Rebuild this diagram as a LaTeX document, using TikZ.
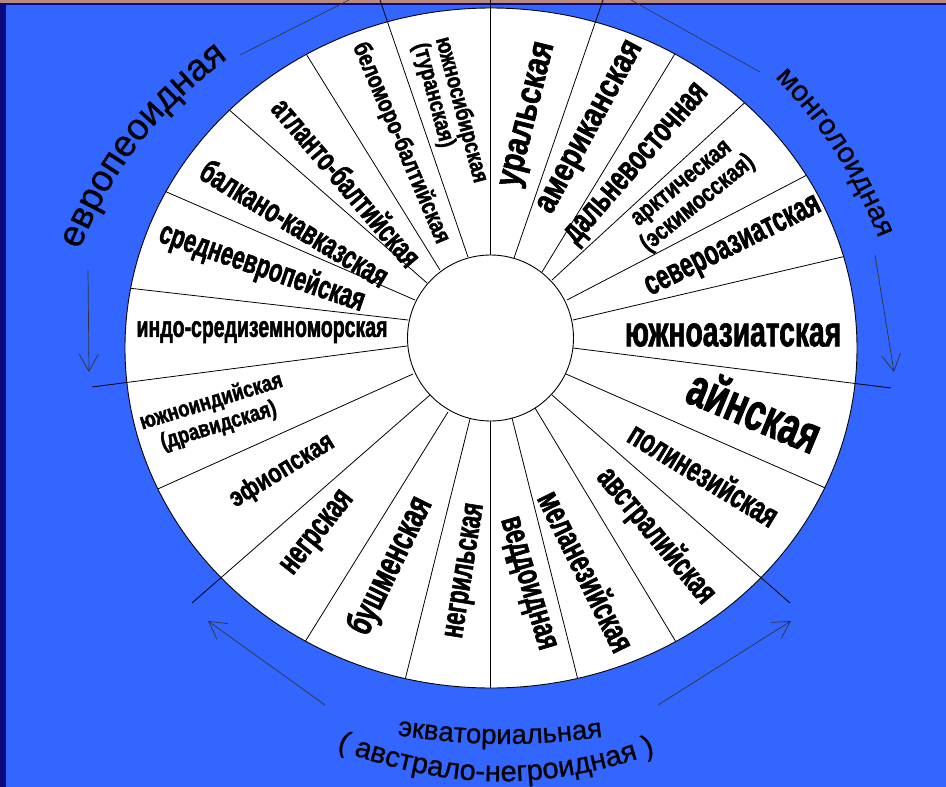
\documentclass[tikz,border=0pt]{standalone}
\usepackage{fontspec}
\setmainfont{Liberation Sans}
\newfontfamily\raceA{Liberation Sans}[FakeStretch=0.66, FakeBold=1.6]
\newfontfamily\raceB{Liberation Sans}[FakeStretch=0.80, FakeBold=1.6]
\newfontfamily\groupfont{Liberation Sans}[FakeBold=0.8]
\usetikzlibrary{arrows.meta,calc,decorations.text}
\definecolor{bgblue}{HTML}{3366FF}
\definecolor{navy}{HTML}{0A0A80}
\definecolor{topband}{HTML}{B88A80}
\newcommand\rA[2]{\raceA\bfseries\fontsize{#1}{#2}\selectfont}
\newcommand\rB[2]{\raceB\bfseries\fontsize{#1}{#2}\selectfont}
\newcommand\gA[1]{\groupfont\fontsize{#1}{#1}\selectfont}
\tikzset{
  race/.style={inner sep=0pt, text=black},
  spoke/.style={line width=0.8pt, draw=black},
  rim/.style={line width=0.9pt, draw=black, fill=white},
  thinline/.style={line width=0.6pt, draw=black!80},
  arr/.style={-{Straight Barb[length=17pt,width=19pt]}, line width=0.7pt, draw=black!80},
  grp/.style={decorate, decoration={text along path, text align=center}},
}
\begin{document}
\begin{tikzpicture}[x=1pt,y=1pt]
  \useasboundingbox (0,0) rectangle (946,-787);
  \fill[bgblue] (0,0) rectangle (946,-787);
  \fill[navy] (0,0) rectangle (6,-787);
  \fill[topband] (0,0) rectangle (946,-3);
  \fill[navy] (0,-2.5) rectangle (946,-5);

  % wheel
  \draw[rim] (491,-348) ellipse [x radius=366, y radius=340];
  \begin{scope}
    \clip (491,-348) ellipse [x radius=366, y radius=340];
    \foreach \ix/\iy/\ox/\oy in {440/270/308/57, 427/283/227/108, 415/300/162/190, 408/320/128/288,
        413/374/160/488, 448/412/308/637, 470/419/408/668, 490/421/490/688,
        512/418/575/668, 535/408/673/637, 566/374/823/487, 573/320/842/257,
        567/300/807/175, 552/280/740/107, 542/272/673/57}
      \draw[spoke] (\ix,-\iy) -- ($(\ix,-\iy)!1.08!(\ox,-\oy)$);
  \end{scope}
  % group borders
  \foreach \ix/\iy/\ox/\oy in {468/257/380/0, 407/346/92/387, 430/395/192/603,
      552/395/790/603, 573/348/891/388, 514/258/603/0, 490/255/490/0}
    \draw[spoke] (\ix,-\iy) -- (\ox,-\oy);
  \draw[rim] (490.5,-338) circle [radius=83];

  % left half
  \node[race, font=\rB{23.5}{23}, align=left, rotate=-75] (yuzhsib) at (450,-113) {южносибирская\\(туранская)};
  \node[race, font=\rB{24.5}{24}, rotate=-67] (belomor) at (401,-143) {беломоро-балтийская};
  \node[race, font=\rA{32}{32}, rotate=-49.5] (atlant) at (347,-182) {атланто-балтийская};
  \node[race, font=\rA{33}{33}, rotate=-31.3] (balkan) at (295,-223) {балкано-кавказская};
  \node[race, font=\rA{33}{33}, rotate=-19] (sredeur) at (262,-268) {среднеевропейская};
  \node[race, font=\rA{29.5}{29}] (indo) at (262,-332) {индо-средиземноморская};
  \node[race, font=\rB{23}{25}, align=center, rotate=17] (yuzhind) at (215,-414) {южноиндийская\\(дравидская)};
  \node[race, font=\rB{27}{27}, rotate=31.5] (efiop) at (282,-471) {эфиопская};
  \node[race, font=\rA{34}{34}, rotate=51.5] (negr) at (319,-534) {негрская};
  \node[race, font=\rA{37}{37}, rotate=64] (bushm) at (391,-566) {бушменская};
  \node[race, font=\rA{33}{33}, rotate=81] (negril) at (467,-571) {негрильская};
  % right half
  \node[race, font=\rB{36}{36}, rotate=76] (ural) at (530,-115) {уральская};
  \node[race, font=\rB{34.5}{34.5}, rotate=61.6] (amer) at (592,-128) {американская};
  \node[race, font=\rA{35}{35}, rotate=48.8] (dalnev) at (638,-165) {дальневосточная};
  \node[race, font=\rB{25}{26}, align=center, rotate=39.2] (arkt) at (691,-195) {арктическая\\(эскимосская)};
  \node[race, font=\rA{34.7}{34.7}, rotate=26.3] (sevaz) at (734,-248) {североазиатская};
  \node[race, font=\rA{42.7}{42.7}] (yuzhaz) at (733,-335) {южноазиатская};
  \node[race, font=\rA{53}{53}, rotate=-22.6] (ainsk) at (755,-410) {айнская};
  \node[race, font=\rA{34}{34}, rotate=-31.3] (polin) at (704,-474) {полинезийская};
  \node[race, font=\rA{34}{34}, rotate=-50.1] (avstr) at (656,-536) {австралийская};
  \node[race, font=\rA{35}{35}, rotate=-63.6] (melan) at (587,-571) {меланезийская};
  \node[race, font=\rA{34.5}{34.5}, rotate=-73.5] (vedd) at (526,-584) {веддоидная};

  % outer lines and arrows
  \coordinate (topLa) at (240,-55); \coordinate (topLb) at (349,0);
  \coordinate (topRa) at (631,0); \coordinate (topRb) at (760,-72);
  \draw[thinline] (topLa) -- (topLb); \draw[thinline] (topRa) -- (topRb);
  \coordinate (eurA) at (88,-270); \coordinate (eurB) at (89,-372);
  \coordinate (monA) at (875,-255); \coordinate (monB) at (894,-372);
  \coordinate (eqLA) at (325,-705); \coordinate (eqLB) at (208,-621);
  \coordinate (eqRA) at (658,-705); \coordinate (eqRB) at (791,-621);
  \draw[arr] (eurA) -- (eurB); \draw[arr] (monA) -- (monB);
  \draw[arr] (eqLA) -- (eqLB); \draw[arr] (eqRA) -- (eqRB);

  % group names
  \path[grp, decoration={text={|\gA{37}|европеоидная}}] (72,-267) to[bend left=16] (243,-47);
  \path[grp, decoration={text={|\gA{29}|монголоидная}}] (761,-63) to[bend left=12] (886,-257);
  \path[grp, decoration={text={|\gA{27.6}|экваториальная}}] (370,-731) to[bend right=9] (630,-733);
  \path[grp, decoration={text={|\gA{29}|( австрало-негроидная )}}] (306,-737) to[bend right=22] (686,-742);
\end{tikzpicture}
\end{document}
